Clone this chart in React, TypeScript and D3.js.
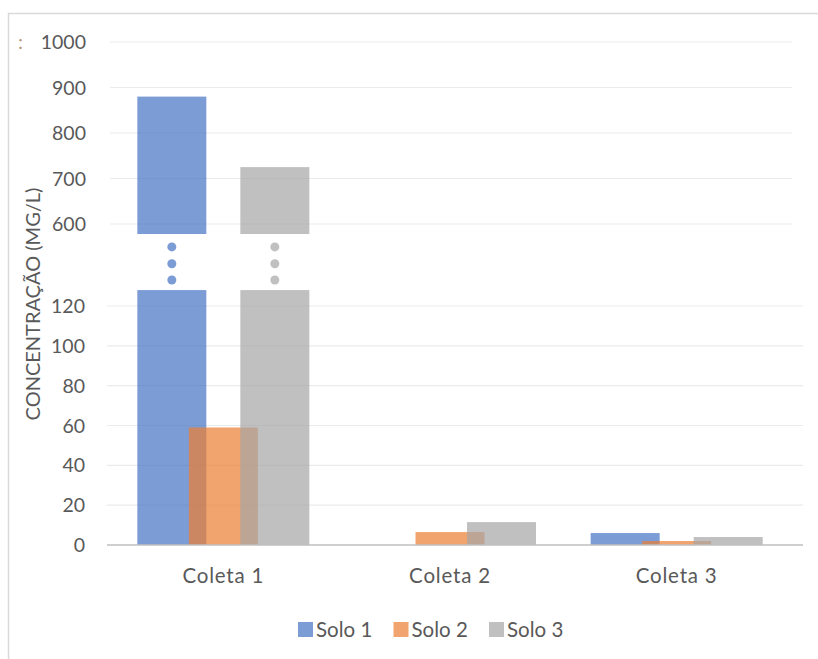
import React from "react";
import * as d3 from "d3";

const categories = ["Coleta 1", "Coleta 2", "Coleta 3"];
const seriesNames = ["Solo 1", "Solo 2", "Solo 3"];
const solo1 = [880, 0, 6];
const solo2 = [59, 6.5, 2];
const solo3 = [725, 11.5, 4];
const lowerTicks = [0, 20, 40, 60, 80, 100, 120];
const upperTicks = [600, 700, 800, 900, 1000];
const breakLow = 128; // top of lower segment
const breakHigh = 578; // start of upper segment
const yTitle = "CONCENTRAÇÃO (MG/L)";

const colors = ["#4472C4", "#ED7D31", "#A5A5A5"];
const FONT = "Lato, 'Open Sans', sans-serif";

export default function App() {
  const W = 818, H = 659;
  const seriesData = [solo1, solo2, solo3];
  const x = d3.scaleBand<string>().domain(categories).range([110, 790]);
  const off = d3.scalePoint<string>().domain(seriesNames).range([-51.5, 51.5]);
  const barW = 69;
  const yLow = d3.scaleLinear().domain([0, 120]).range([545, 306]);
  const yHigh = d3.scaleLinear().domain([600, 1000]).range([224, 42]);

  const bars: React.ReactNode[] = [];
  seriesNames.forEach((s, si) => {
    seriesData[si].forEach((v, ci) => {
      const cx = (x(categories[ci]) as number) + x.bandwidth() / 2 + (off(s) as number);
      const x0 = cx - barW / 2;
      const fill = colors[si];
      if (v <= 120) {
        bars.push(
          <rect key={`l${si}${ci}`} x={x0} y={yLow(v)} width={barW} height={yLow(0) - yLow(v)} fill={fill} fillOpacity={0.7} />
        );
      } else {
        bars.push(
          <rect key={`l${si}${ci}`} x={x0} y={yLow(breakLow)} width={barW} height={yLow(0) - yLow(breakLow)} fill={fill} fillOpacity={0.7} />
        );
        bars.push(
          <rect key={`u${si}${ci}`} x={x0} y={yHigh(v)} width={barW} height={yHigh(breakHigh) - yHigh(v)} fill={fill} fillOpacity={0.7} />
        );
        const gTop = yHigh(breakHigh);
        const gBot = yLow(breakLow);
        [0.23, 0.53, 0.82].forEach((f, k) => {
          bars.push(
            <circle key={`d${si}${ci}${k}`} cx={cx} cy={gTop + f * (gBot - gTop)} r={4.5} fill={fill} fillOpacity={0.7} />
          );
        });
      }
    });
  });

  const legendX = d3.scalePoint<string>().domain(seriesNames).range([298, 489]);

  return (
    <svg width={W} height={H} style={{ position: "absolute", left: 0, top: 0 }} fontFamily={FONT}>
      <rect x={0} y={0} width={W} height={H} fill="#fff" />
      <path d={`M8.5,${H}V13.5H${W}`} fill="none" stroke="#d9d9d9" strokeWidth={1.5} />
      <text x={18} y={42} dy="0.36em" fontSize={20} fill="#b89a80">:</text>
      {upperTicks.map((t) => (
        <g key={`ut${t}`}>
          <line x1={110} x2={792} y1={yHigh(t)} y2={yHigh(t)} stroke="#ebebeb" strokeWidth={1.2} />
          <text x={86} y={yHigh(t)} dy="0.36em" textAnchor="end" fontSize={19.5} fill="#595959">{t}</text>
        </g>
      ))}
      {lowerTicks.map((t) => (
        <g key={`lt${t}`}>
          {t !== 0 && <line x1={107} x2={803} y1={yLow(t)} y2={yLow(t)} stroke="#ebebeb" strokeWidth={1.2} />}
          <text x={85} y={yLow(t)} dy="0.36em" textAnchor="end" fontSize={19.5} fill="#595959">{t}</text>
        </g>
      ))}
      {bars}
      <line x1={107} x2={803} y1={yLow(0)} y2={yLow(0)} stroke="#bfbfbf" strokeWidth={1.5} />
      {categories.map((c) => (
        <text key={c} x={(x(c) as number) + x.bandwidth() / 2} y={576} dy="0.36em" textAnchor="middle" fontSize={20.5} letterSpacing={0.8} fill="#595959">{c}</text>
      ))}
      <text transform={`translate(33,304) rotate(-90)`} textAnchor="middle" dy="0.36em" fontSize={20} fill="#595959">{yTitle}</text>
      {seriesNames.map((s, i) => (
        <g key={s} transform={`translate(${legendX(s)},622)`}>
          <rect x={0} y={0} width={15} height={15} fill={colors[i]} fillOpacity={0.7} />
          <text x={18} y={7.5} dy="0.36em" fontSize={20.5} fill="#595959">{s}</text>
        </g>
      ))}
    </svg>
  );
}
